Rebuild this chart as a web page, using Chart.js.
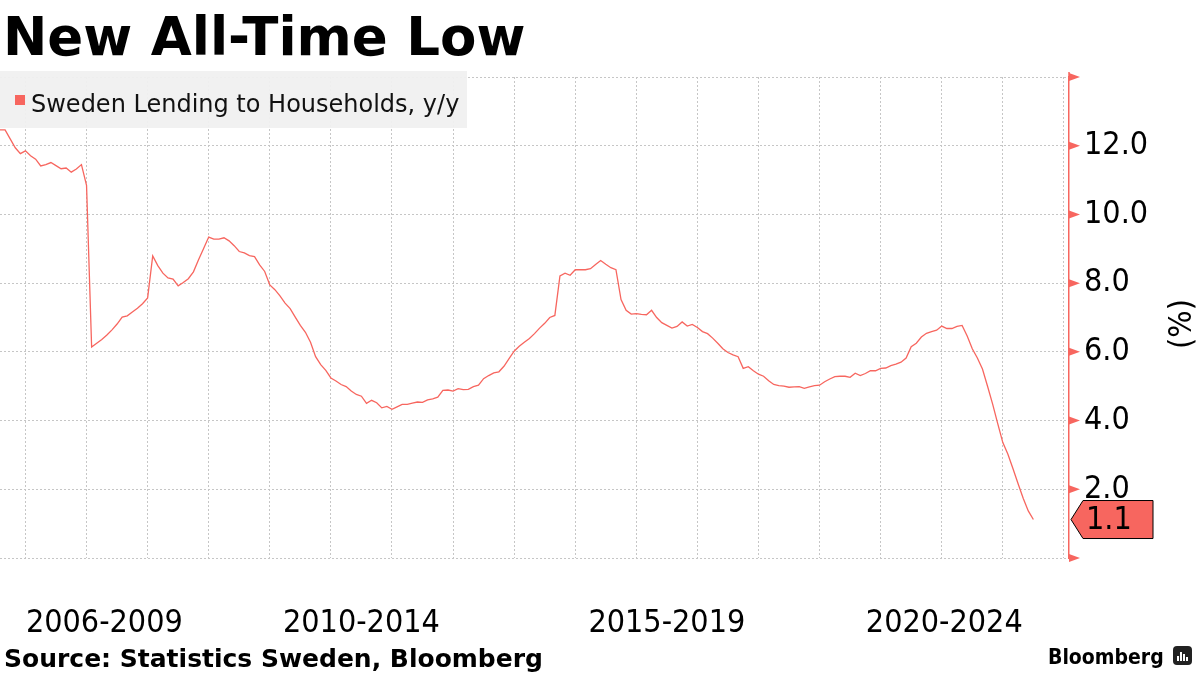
<!DOCTYPE html>
<html>
<head>
<meta charset="utf-8">
<script src="https://cdn.jsdelivr.net/npm/chart.js@4.4.1/dist/chart.umd.min.js"></script>
<style>
  html, body { margin: 0; padding: 0; background: #fff; }
  #wrap { width: 1200px; height: 675px; position: relative; }
</style>
</head>
<body>
<div id="wrap"><canvas id="lendingChart" width="1200" height="675"></canvas></div>
<script>
// monthly y/y growth, first point = Aug 2006
const startYear = 2006;
const startMonth = 8;
const lendingGrowth = [
  12.46, 12.46, 12.2, 11.94, 11.77, 11.85, 11.71, 11.61, 11.41, 11.45, 11.51, 11.42, 11.33, 11.35, 11.23, 11.32, 11.45, 10.85,
  6.14, 6.25, 6.36, 6.49, 6.64, 6.81, 7.01, 7.05, 7.16, 7.27, 7.40, 7.57, 8.79, 8.51, 8.29, 8.15, 8.12, 7.92, 8.02, 8.13, 8.33, 8.68, 9.01, 9.34,
  9.28, 9.28, 9.32, 9.23, 9.09, 8.92, 8.88, 8.80, 8.77, 8.53, 8.34, 7.95, 7.81, 7.63, 7.42, 7.26, 7.01, 6.77, 6.57, 6.28,
  5.86, 5.63, 5.46, 5.24, 5.15, 5.05, 4.99, 4.86, 4.76, 4.71, 4.50, 4.59, 4.52, 4.37, 4.41, 4.33, 4.40, 4.47, 4.47,
  4.51, 4.54, 4.53, 4.60, 4.63, 4.68, 4.88, 4.89, 4.86, 4.93, 4.90, 4.91, 4.99, 5.03, 5.22, 5.31, 5.39, 5.42, 5.58, 5.80,
  6.02, 6.16, 6.28, 6.39, 6.53, 6.69, 6.83, 7.00, 7.06, 8.21, 8.29, 8.23, 8.39, 8.39, 8.39, 8.42, 8.54, 8.66, 8.55, 8.45, 8.39,
  7.52, 7.21, 7.10, 7.11, 7.09, 7.08, 7.21, 7.00, 6.85, 6.77, 6.69, 6.74, 6.87, 6.75, 6.80, 6.71, 6.59, 6.53, 6.40, 6.25,
  6.09, 5.98, 5.91, 5.86, 5.52, 5.57, 5.45, 5.35, 5.29, 5.16, 5.05, 5.02, 5.00, 4.97, 4.98, 4.99, 4.94, 4.98, 5.02, 5.03,
  5.13, 5.21, 5.28, 5.29, 5.29, 5.26, 5.38, 5.31, 5.37, 5.45, 5.45, 5.52, 5.53, 5.60, 5.64, 5.70, 5.82, 6.15, 6.25, 6.43,
  6.54, 6.59, 6.63, 6.75, 6.68, 6.68, 6.74, 6.77, 6.46, 6.09, 5.82, 5.50, 5.00, 4.48, 3.91, 3.36, 3.02, 2.60, 2.16, 1.74, 1.37, 1.12
];

// x axis runs to Feb 2024 (month index from Aug 2006)
const axisEndMonth = 210;
const periodLabels = ["2006-2009", "2010-2014", "2015-2019", "2020-2024"];
const periodStartYears = [2006, 2010, 2015, 2020];
const yTicks = [0, 2, 4, 6, 8, 10, 12, 14];

const RED = "#f7665f";
const GRID = "#c6c6c6";
const CONDENSED = '"DejaVu Sans Condensed", "DejaVu Sans", sans-serif';

function monthIndex(year, month) {
  return (year - startYear) * 12 + (month - startMonth);
}

// centre of each period, clipped to the axis range
const periodCentres = periodStartYears.map((year, i) => {
  const from = Math.max(0, monthIndex(year, 1));
  const to = i < periodStartYears.length - 1 ? monthIndex(periodStartYears[i + 1], 1) : axisEndMonth;
  return (from + to) / 2;
});

const januaries = [];
for (let m = monthIndex(startYear + 1, 1); m <= axisEndMonth; m += 12) januaries.push(m);

const points = lendingGrowth.map((v, i) => ({ x: i, y: v }));

const decorations = {
  id: 'decorations',
  beforeDraw(chart) {
    const ctx = chart.ctx;
    ctx.save();
    ctx.fillStyle = '#fff';
    ctx.fillRect(0, 0, chart.width, chart.height);
    ctx.restore();
  },
  afterDraw(chart) {
    const ctx = chart.ctx;
    const area = chart.chartArea;
    const yScale = chart.scales.y;
    const x0 = area.right;
    ctx.save();

    // title + source
    ctx.fillStyle = '#000';
    ctx.textBaseline = 'alphabetic';
    ctx.textAlign = 'left';
    ctx.font = 'bold 53px "DejaVu Sans"';
    ctx.fillText("New All-Time Low", 3, 55);
    ctx.font = 'bold 25px "DejaVu Sans"';
    ctx.fillText("Source: Statistics Sweden, Bloomberg", 4, 667);

    // logo
    ctx.font = 'bold 21px ' + CONDENSED;
    ctx.fillText("Bloomberg", 1048, 664);
    ctx.fillStyle = '#222';
    ctx.beginPath();
    ctx.roundRect(1173, 646, 19, 19, 4);
    ctx.fill();
    ctx.fillStyle = '#fff';
    [[1177, 656, 2, 5], [1180, 652, 2, 9], [1183, 654, 2, 7], [1186, 657, 2, 4]].forEach(b => ctx.fillRect(...b));

    // legend
    ctx.fillStyle = 'rgba(240,240,240,0.95)';
    ctx.fillRect(0, 71, 467, 57);
    ctx.fillStyle = RED;
    ctx.fillRect(15, 95, 10, 10);
    ctx.fillStyle = '#111';
    ctx.font = '24px "DejaVu Sans"';
    ctx.fillText(chart.data.datasets[0].label, 31, 112);

    // axis line extension and tick arrows
    ctx.strokeStyle = RED;
    ctx.lineWidth = 1.5;
    ctx.beginPath();
    ctx.moveTo(x0, area.top - 5);
    ctx.lineTo(x0, area.top);
    ctx.stroke();
    ctx.fillStyle = RED;
    yTicks.forEach(v => {
      const y = yScale.getPixelForValue(v);
      ctx.beginPath();
      ctx.moveTo(x0, y - 4);
      ctx.lineTo(x0 + 11, y);
      ctx.lineTo(x0, y + 4);
      ctx.closePath();
      ctx.fill();
    });

    // unit label
    ctx.save();
    ctx.translate(1183, 324);
    ctx.rotate(-Math.PI / 2);
    ctx.fillStyle = '#000';
    ctx.font = '32px ' + CONDENSED;
    ctx.textAlign = 'center';
    ctx.textBaseline = 'middle';
    ctx.fillText("(%)", 0, 0);
    ctx.restore();

    // last value callout
    const last = lendingGrowth[lendingGrowth.length - 1];
    const ly = yScale.getPixelForValue(last);
    ctx.beginPath();
    ctx.moveTo(x0 + 2, ly);
    ctx.lineTo(x0 + 14, ly - 19);
    ctx.lineTo(x0 + 84, ly - 19);
    ctx.lineTo(x0 + 84, ly + 19);
    ctx.lineTo(x0 + 14, ly + 19);
    ctx.closePath();
    ctx.fillStyle = RED;
    ctx.fill();
    ctx.strokeStyle = '#000';
    ctx.lineWidth = 1;
    ctx.stroke();
    ctx.fillStyle = '#000';
    ctx.font = '32px ' + CONDENSED;
    ctx.textBaseline = 'middle';
    ctx.fillText(last.toFixed(1), x0 + 17, ly + 1);

    ctx.restore();
  }
};

const lendingChart = new Chart(document.getElementById('lendingChart').getContext('2d'), {
  type: 'line',
  data: {
    datasets: [{
      label: "Sweden Lending to Households, y/y",
      data: points,
      borderColor: RED,
      borderWidth: 1.3,
      pointRadius: 0,
      tension: 0,
      clip: false
    }]
  },
  options: {
    responsive: false,
    animation: false,
    devicePixelRatio: 1,
    layout: { padding: { top: 77, left: 0, right: 0, bottom: 0 } },
    plugins: {
      legend: { display: false },
      tooltip: { enabled: false }
    },
    scales: {
      x: {
        type: 'linear',
        min: 0,
        max: axisEndMonth,
        afterBuildTicks: (axis) => {
          axis.ticks = januaries.concat(periodCentres).sort((a, b) => a - b).map(v => ({ value: v }));
        },
        afterFit: (axis) => { axis.height = 117; },
        grid: {
          drawTicks: true,
          tickLength: 44,
          tickColor: 'rgba(0,0,0,0)',
          color: (c) => januaries.includes(c.tick && c.tick.value) ? GRID : 'rgba(0,0,0,0)',
          lineWidth: 1
        },
        border: { display: false, dash: [2, 2] },
        ticks: {
          autoSkip: false,
          maxRotation: 0,
          padding: 2,
          color: '#000',
          font: { family: CONDENSED, size: 32 },
          callback: (value) => {
            const i = periodCentres.indexOf(value);
            return i >= 0 ? periodLabels[i] : '';
          }
        }
      },
      y: {
        position: 'right',
        min: 0,
        max: 14,
        afterFit: (axis) => { axis.width = 131; },
        ticks: {
          stepSize: 1,
          padding: 8,
          color: '#000',
          font: { family: CONDENSED, size: 32 },
          callback: (value) => (value % 2 === 0 && value > 0 && value < 14) ? value.toFixed(1) : ''
        },
        grid: {
          color: (c) => (c.tick && c.tick.value % 2 === 0) ? GRID : 'rgba(0,0,0,0)',
          tickColor: (c) => (c.tick && c.tick.value % 2 === 1) ? RED : 'rgba(0,0,0,0)',
          tickLength: 7,
          tickWidth: 1
        },
        border: { display: true, color: RED, width: 1.5, dash: [2, 2] }
      }
    }
  },
  plugins: [decorations]
});
</script>
</body>
</html>
